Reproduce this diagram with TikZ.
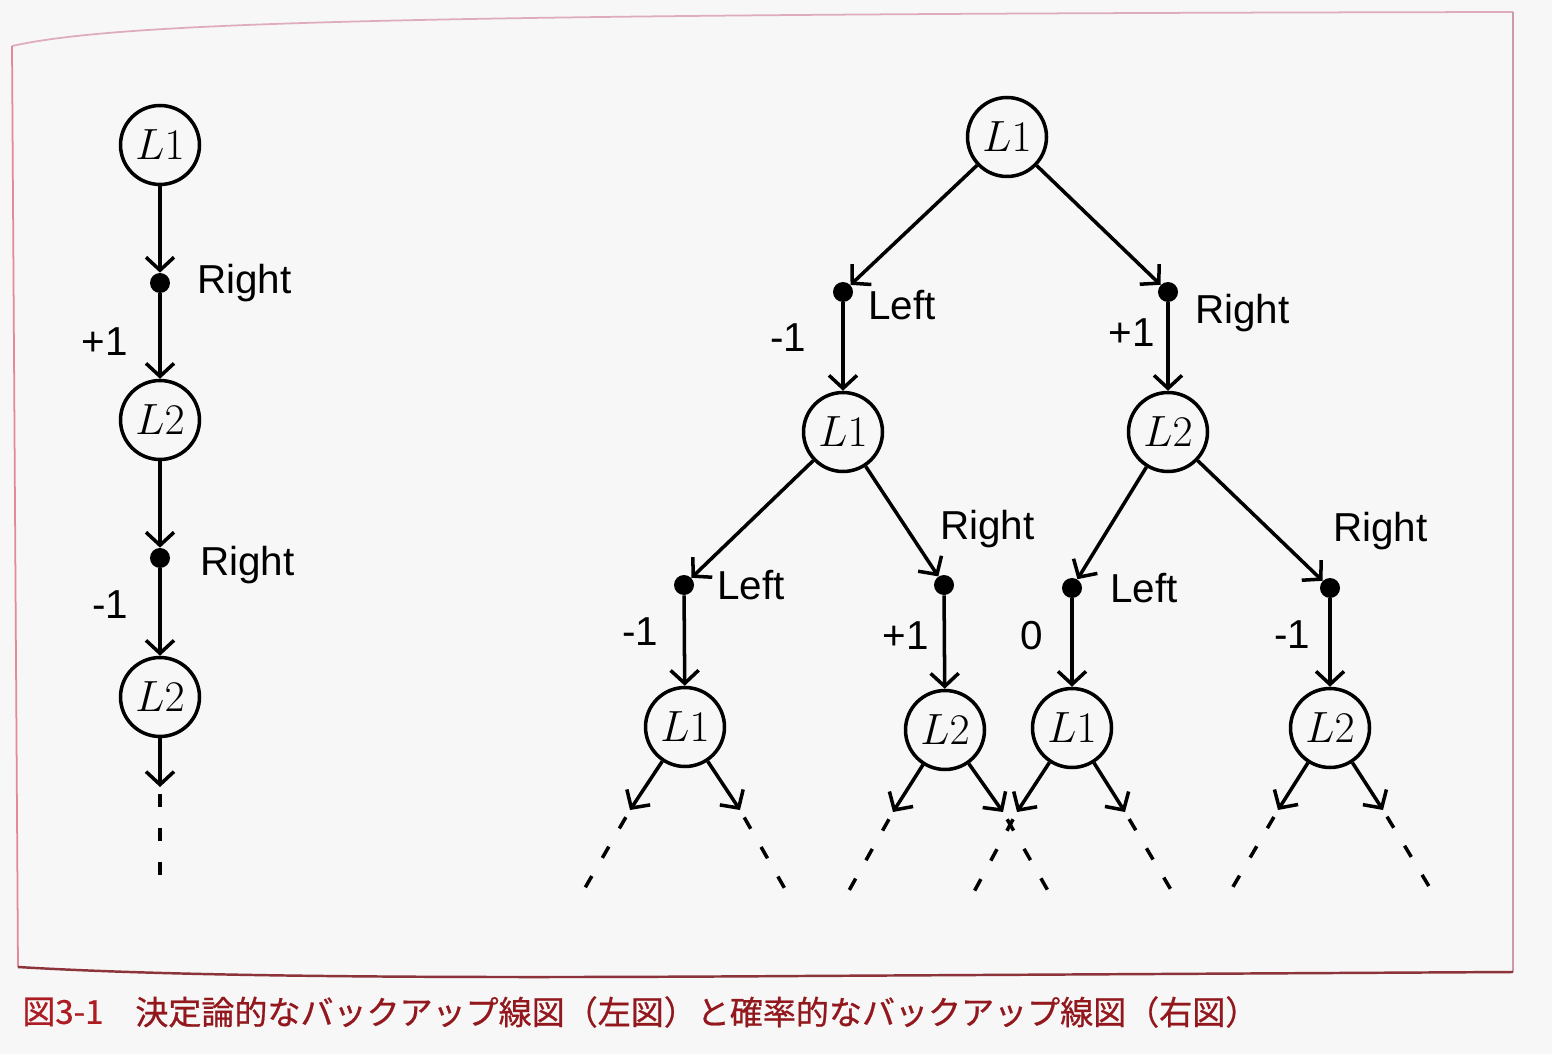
\documentclass[tikz,border=0pt]{standalone}
\usepackage{fontspec}
\setsansfont{Liberation Sans}
\newfontfamily\cjk[FakeBold=0.7]{Noto Sans CJK JP}
\usetikzlibrary{arrows.meta,calc}
\definecolor{pagebg}{RGB}{247,247,247}
\definecolor{framepink}{RGB}{222,172,188}
\definecolor{framered}{RGB}{140,52,58}
\definecolor{capred}{RGB}{172,28,34}
\begin{document}
\begin{tikzpicture}[x=0.02cm,y=-0.02cm,
  state/.style={circle,draw,line width=2pt,minimum size=1.58cm,inner sep=0pt,font=\fontsize{31}{35}\selectfont},
  act/.style={circle,fill=black,minimum size=0.4cm,inner sep=0pt},
  lbl/.style={font=\sffamily\fontsize{23}{27}\selectfont,inner sep=0pt},
  edge/.style={line width=2pt,-{Straight Barb[length=0.26cm,width=0.56cm,line width=2pt]}},
  cont/.style={line width=2pt,dash pattern=on 0.26cm off 0.42cm},
  capt/.style={font=\cjk\fontsize{18.8}{22}\selectfont,text=capred,inner sep=0pt,anchor=west}
]
\fill[pagebg] (0,0) rectangle (1552,1054);
\useasboundingbox (0,0) rectangle (1552,1054);
% frame
\draw[framepink,line width=1pt] (12,46) .. controls (120,22) and (400,14) .. (1513,12);
\draw[framepink!90!black,line width=1pt] (1513,12) -- (1513,972);
\draw[framepink!80!red,line width=1pt] (12,46) -- (18,967);
\draw[framered,line width=1.4pt] (18,967) .. controls (200,978) and (500,978) .. (800,976) -- (1513,972);

% ---------- left chain ----------
\node[state] (a1) at (160,145) {$L1$};
\node[act]   (ad1) at (160,283) {};
\node[state] (a2) at (160,420) {$L2$};
\node[act]   (ad2) at (160,558) {};
\node[state] (a3) at (160,697) {$L2$};
\coordinate (at) at (160,787);
\coordinate (ae) at (160,890);
\draw[edge] (a1) -- (ad1);
\draw[edge] (ad1) -- (a2);
\draw[edge] (a2) -- (ad2);
\draw[edge] (ad2) -- (a3);
\draw[edge] (a3) -- (at);
\draw[cont] ([yshift=-0.14cm]at) -- (ae);
\node[lbl,anchor=base west] (la1) at (197,294) {Right};
\node[lbl,anchor=base west] (la2) at (200,575) {Right};
\node[lbl] (ra1) at (105,342) {+1};
\node[lbl] (ra2) at (110,605) {-1};

% ---------- right tree ----------
\node[state] (r0) at (1007,137) {$L1$};
\node[act]   (rd1) at (843,292) {};
\node[act]   (rd2) at (1168,292) {};
\node[state] (r1) at (843,432) {$L1$};
\node[state] (r2) at (1168,432) {$L2$};
\node[act]   (rd3) at (684,585) {};
\node[act]   (rd4) at (944,585) {};
\node[act]   (rd5) at (1072,588) {};
\node[act]   (rd6) at (1330,588) {};
\node[state] (r3) at (685,727) {$L1$};
\node[state] (r4) at (945,730) {$L2$};
\node[state] (r5) at (1072,728) {$L1$};
\node[state] (r6) at (1330,728) {$L2$};

\draw[edge] (r0) -- (rd1);
\draw[edge] (r0) -- (rd2);
\draw[edge] (rd1) -- (r1);
\draw[edge] (rd2) -- (r2);
\draw[edge] (r1) -- (rd3);
\draw[edge] (r1) -- (rd4);
\draw[edge] (r2) -- (rd5);
\draw[edge] (r2) -- (rd6);
\draw[edge] (rd3) -- (r3);
\draw[edge] (rd4) -- (r4);
\draw[edge] (rd5) -- (r5);
\draw[edge] (rd6) -- (r6);

\node[lbl,anchor=base west] (l1) at (868,319) {Left};
\node[lbl,anchor=base west] (l2) at (1195,323) {Right};
\node[lbl] (n1) at (788,338) {-1};
\node[lbl] (n2) at (1132,333) {+1};
\node[lbl,anchor=base west] (l3) at (717,599) {Left};
\node[lbl,anchor=base west] (l4) at (940,539) {Right};
\node[lbl,anchor=base west] (l5) at (1110,602) {Left};
\node[lbl,anchor=base west] (l6) at (1333,541) {Right};
\node[lbl] (n3) at (640,632) {-1};
\node[lbl] (n4) at (906,636) {+1};
\node[lbl] (n5) at (1032,636) {0};
\node[lbl] (n6) at (1292,635) {-1};

% continuation arrows
\coordinate (t1) at (630,810); \coordinate (e1) at (578,900);
\coordinate (t2) at (740,810); \coordinate (e2) at (793,903);
\coordinate (t3) at (893,812); \coordinate (e3) at (842,903);
\coordinate (t4) at (1003,812); \coordinate (e4) at (1055,903);
\coordinate (t5) at (1017,812); \coordinate (e5) at (968,903);
\coordinate (t6) at (1125,812); \coordinate (e6) at (1177,900);
\coordinate (t7) at (1278,810); \coordinate (e7) at (1227,897);
\coordinate (t8) at (1383,810); \coordinate (e8) at (1433,893);
\draw[edge] (r3) -- (t1); \draw[edge] (r3) -- (t2);
\draw[edge] (r4) -- (t3); \draw[edge] (r4) -- (t4);
\draw[edge] (r5) -- (t5); \draw[edge] (r5) -- (t6);
\draw[edge] (r6) -- (t7); \draw[edge] (r6) -- (t8);
\foreach \i in {1,...,8} { \draw[cont] ($(t\i)!0.08!(e\i)$) -- (e\i); }

% caption
\node[capt] (c0) at (22,1012) {図3-1};
\node[capt,text=capred!85!black] (c1) at (135,1012) {決定論的なバックアップ線図（左図）と確率的なバックアップ線図（右図）};
\end{tikzpicture}
\end{document}
